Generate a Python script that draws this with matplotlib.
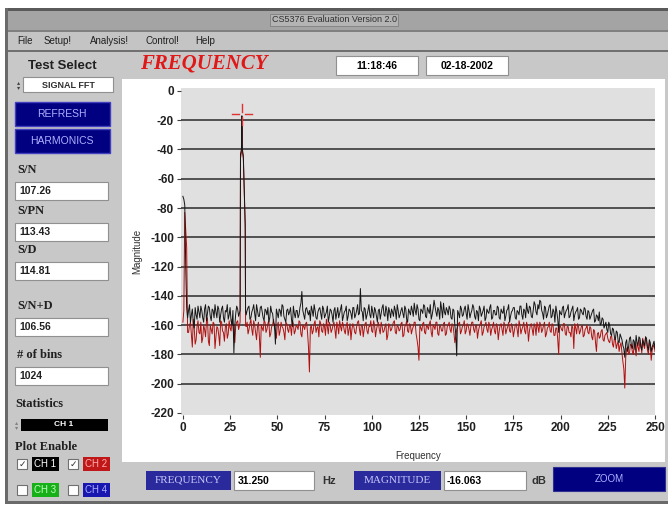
import numpy as np
import matplotlib
matplotlib.use("Agg")
import matplotlib.pyplot as plt
from matplotlib.patches import Rectangle

# ---- data (dB vs Hz) ----
freq_int = list(range(0, 30)) + list(range(34, 251))
freq_half = [f + 0.5 for f in range(0, 30)] + [f + 0.5 for f in range(33, 250)]

ch1_int = [
    -72, -78, -148, -150, -158, -149, -162, -153, -147, -155,
    -150, -158, -146, -152, -148, -157, -150, -146, -155, -149,
    -153, -147, -158, -151, -156, -148, -160, -179, -152, -149,
    # 34..
    -150, -147, -155, -149, -152, -146, -154, -148, -151, -157,
    -150, -148, -155, -151, -158, -173, -152, -149, -154, -147,
    -156, -150, -153, -148, -161, -152, -150, -155, -148, -137,
    -153, -149, -151, -150, -147, -154, -150, -156, -149, -152,
    -147, -155, -151, -158, -149, -153, -150, -156, -148, -152,
    -146, -154, -150, -157, -149, -152, -148, -155, -150, -153,
    -135, -151, -148, -156, -150, -153, -147, -155, -150, -158,
    -149, -152, -146, -154, -150, -148, -155, -151, -147, -156,
    -150, -153, -148, -155, -149, -158, -151, -147, -154, -150,
    -146, -156, -149, -152, -147, -155, -150, -146, -153, -143,
    -151, -148, -156, -149, -145, -153, -150, -147, -155, -149,
    -160, -181, -152, -147, -154, -149, -152, -146, -155, -150,
    -148, -156, -151, -147, -154, -150, -157, -149, -152, -146,
    -155, -150, -153, -148, -156, -151, -147, -154, -149, -158,
    -151, -148, -155, -150, -153, -147, -156, -150, -145, -152,
    -148, -155, -144, -151, -146, -143, -150, -156, -148, -153,
    -147, -155, -149, -158, -151, -165, -152, -148, -155, -150,
    -146, -154, -149, -157, -151, -148, -155, -150, -153, -149,
    -156, -151, -154, -150, -158, -153, -157, -160, -155, -162,
    -158, -165, -160, -167, -163, -170, -165, -172, -168, -174,
    -182, -170, -175, -168, -176, -171, -167, -174, -169, -177,
    -172, -168, -175, -170, -178, -173, -176,
]
ch1_half = [
    -74, -120, -155, -146, -153, -158, -148, -156, -151, -147,
    -155, -149, -157, -147, -154, -149, -155, -151, -147, -158,
    -149, -155, -150, -146, -153, -157, -150, -160, -147, -154,
    # 33.5..
    -153, -148, -156, -151, -146, -157, -150, -154, -147, -155,
    -149, -153, -158, -147, -152, -160, -149, -155, -150, -146,
    -154, -158, -149, -151, -156, -147, -155, -150, -153, -145,
    -150, -156, -148, -153, -157, -150, -146, -155, -151, -148,
    -156, -149, -153, -147, -154, -150, -158, -148, -152, -155,
    -149, -157, -151, -147, -154, -150, -156, -148, -153, -146,
    -152, -150, -157, -149, -153, -146, -155, -151, -148, -154,
    -150, -156, -148, -153, -147, -157, -151, -149, -154, -150,
    -146, -155, -150, -152, -147, -156, -149, -153, -150, -145,
    -153, -149, -157, -150, -146, -154, -148, -152, -156, -149,
    -147, -154, -150, -144, -155, -151, -148, -153, -149, -156,
    -150, -166, -150, -155, -149, -153, -147, -156, -150, -152,
    -146, -154, -150, -157, -149, -152, -147, -155, -151, -148,
    -156, -150, -153, -147, -155, -149, -152, -157, -150, -146,
    -154, -150, -148, -156, -151, -147, -153, -149, -155, -150,
    -147, -154, -150, -146, -153, -149, -144, -152, -147, -155,
    -150, -146, -154, -151, -147, -156, -150, -153, -147, -152,
    -149, -155, -151, -147, -153, -150, -156, -149, -152, -148,
    -154, -150, -156, -152, -149, -157, -154, -151, -159, -156,
    -160, -163, -158, -166, -162, -168, -164, -171, -166, -170,
    -176, -172, -178, -169, -174, -170, -177, -172, -168, -175,
    -170, -174, -169, -177, -172, -175, -171,
]

ch2_int = [
    -158, -83, -107, -165, -158, -175, -162, -170, -157, -166,
    -172, -160, -168, -155, -174, -163, -158, -176, -161, -167,
    -157, -164, -171, -159, -166, -162, -156, -168, -160, -157,
    # 34..
    -158, -163, -156, -167, -160, -170, -158, -182, -162, -157,
    -165, -159, -168, -161, -156, -164, -160, -167, -158, -162,
    -170, -159, -165, -161, -157, -166, -160, -163, -158, -168,
    -161, -159, -165, -192, -160, -164, -157, -162, -168, -159,
    -165, -161, -156, -166, -160, -163, -158, -169, -161, -157,
    -164, -160, -166, -158, -163, -170, -159, -165, -161, -157,
    -167, -160, -163, -158, -166, -161, -164, -157, -168, -160,
    -163, -158, -165, -161, -170, -159, -164, -160, -157, -166,
    -161, -163, -158, -167, -160, -164, -159, -166, -161, -158,
    -170, -184, -162, -159, -165, -160, -163, -157, -168, -161,
    -158, -166, -160, -164, -159, -167, -161, -158, -165, -160,
    -172, -163, -159, -166, -161, -157, -164, -160, -167, -158,
    -163, -160, -169, -161, -157, -165, -160, -163, -158, -167,
    -161, -164, -159, -170, -160, -163, -158, -166, -161, -164,
    -159, -168, -160, -163, -157, -166, -161, -164, -158, -171,
    -160, -163, -159, -167, -161, -158, -165, -160, -168, -162,
    -158, -165, -160, -167, -162, -180, -161, -164, -159, -167,
    -161, -165, -160, -176, -162, -159, -166, -161, -168, -163,
    -160, -166, -162, -170, -164, -178, -165, -168, -163, -171,
    -166, -169, -172, -167, -175, -170, -173, -178, -172, -185,
    -203, -176, -180, -173, -178, -172, -181, -175, -170, -179,
    -174, -168, -177, -172, -184, -175, -178,
]
ch2_half = [
    -150, -95, -165, -160, -167, -156, -173, -161, -165, -158,
    -169, -163, -157, -171, -160, -166, -159, -168, -162, -174,
    -158, -165, -161, -169, -157, -164, -160, -172, -158, -163,
    # 33.5..
    -161, -166, -159, -163, -157, -165, -161, -168, -160, -164,
    -158, -163, -157, -166, -160, -162, -169, -158, -164, -161,
    -165, -158, -163, -160, -167, -159, -164, -161, -157, -166,
    -160, -163, -158, -175, -162, -166, -159, -165, -161, -157,
    -164, -159, -167, -161, -158, -165, -160, -163, -158, -166,
    -161, -158, -164, -160, -167, -159, -163, -161, -166, -158,
    -163, -160, -168, -159, -164, -161, -157, -165, -160, -163,
    -158, -166, -161, -164, -159, -167, -160, -163, -158, -165,
    -160, -164, -159, -168, -161, -157, -165, -160, -163, -158,
    -166, -175, -160, -164, -158, -166, -161, -159, -165, -160,
    -163, -158, -167, -161, -164, -158, -166, -160, -163, -159,
    -165, -168, -161, -158, -164, -160, -166, -159, -163, -161,
    -158, -165, -160, -164, -159, -167, -161, -158, -165, -160,
    -163, -158, -166, -161, -164, -159, -167, -160, -163, -158,
    -165, -161, -164, -159, -168, -160, -163, -158, -166, -161,
    -164, -159, -167, -161, -158, -165, -160, -163, -158, -166,
    -161, -164, -159, -167, -162, -170, -160, -163, -159, -166,
    -161, -165, -168, -162, -159, -166, -161, -164, -160, -167,
    -162, -165, -161, -168, -163, -172, -166, -169, -164, -170,
    -167, -165, -171, -168, -173, -169, -176, -171, -174, -179,
    -190, -182, -175, -179, -174, -180, -176, -172, -178, -173,
    -169, -176, -171, -180, -174, -177, -173,
]

# fundamental tone around 31.25 Hz
peak_freq = [30.3, 30.5, 31.0, 31.25, 31.5, 32.0, 33.0, 33.2]
ch1_peak = [-150, -43, -40, -17, -40, -44, -91, -150]
ch2_peak = [-158, -46, -42, -22, -42, -46, -93, -160]

cursor_freq = 31.250
cursor_mag = -16.063

y_ticks = [0, -20, -40, -60, -80, -100, -120, -140, -160, -180, -200, -220]
x_ticks = [0, 25, 50, 75, 100, 125, 150, 175, 200, 225, 250]

readouts = [("S/N", "107.26"), ("S/PN", "113.43"), ("S/D", "114.81"),
            ("S/N+D", "106.56"), ("# of bins", "1024")]
menu_items = ["File", "Setup!", "Analysis!", "Control!", "Help"]


def merged(*pairs):
    f = np.concatenate([np.asarray(p[0], dtype=float) for p in pairs])
    v = np.concatenate([np.asarray(p[1], dtype=float) for p in pairs])
    order = np.argsort(f, kind="stable")
    return f[order], v[order]


ch1_f, ch1_v = merged((freq_int, ch1_int), (freq_half, ch1_half), (peak_freq, ch1_peak))
ch2_f, ch2_v = merged((freq_int, ch2_int), (freq_half, ch2_half), (peak_freq, ch2_peak))

W, H = 668, 508
sans = ["Liberation Sans", "DejaVu Sans"]
serif = ["Liberation Serif", "DejaVu Serif"]

fig = plt.figure(figsize=(W / 100, H / 100), dpi=100)
fig.patch.set_facecolor("white")

# GUI frame drawn in pixel coordinates
gui = fig.add_axes([0, 0, 1, 1], zorder=0)
gui.set_xlim(0, W)
gui.set_ylim(H, 0)
gui.axis("off")


def box(x0, y0, x1, y1, fc, ec="none", lw=0.8):
    gui.add_patch(Rectangle((x0, y0), x1 - x0, y1 - y0, facecolor=fc,
                            edgecolor=ec, lw=lw))


def txt(x, y, s, size=8, ha="left", **kw):
    gui.text(x, y, s, fontsize=size, ha=ha, va="center", **kw)


# window
box(5, 8, W, 504, "#c8c8c8")
box(5, 8, W, 11, "#5a5a5a")
box(5, 11, W, 30, "#a4a4a4")
box(5, 30, W, 32, "#808080")
box(5, 32, W, 50, "#c4c4c4")
box(5, 50, W, 52, "#707070")
box(5, 8, 8, 504, "#6a6a6a")
box(5, 501, W, 504, "#6a6a6a")
txt(334, 20, "CS5376 Evaluation Version 2.0", size=6.5, ha="center",
    color="#303030", family=sans,
    bbox=dict(boxstyle="square,pad=0.15", fc="#b4b4b4", ec="#808080", lw=0.6))
for x, item in zip([17, 44, 90, 145, 195], menu_items):
    txt(x, 41, item, size=7, color="#202020", family=sans)

# header
txt(28, 66, "Test Select", size=9.5, weight="bold", family=sans, color="#202020")
txt(140, 64, "FREQUENCY", size=15, weight="bold", style="italic",
    family=serif, color="#e01818")
box(336, 56, 418, 75, "white", "#909090")
txt(377, 66, "11:18:46", size=7.5, ha="center", weight="bold", family=sans)
box(426, 56, 508, 75, "white", "#909090")
txt(467, 66, "02-18-2002", size=7.5, ha="center", weight="bold", family=sans)

# left control panel
box(23, 77, 113, 92, "white", "#909090")
txt(68, 85, "SIGNAL FFT", size=6.5, ha="center", weight="bold", color="#303030",
    family=sans)
txt(19, 85, "\u25b4\n\u25be", size=4.5, ha="center", color="#404040", linespacing=0.8)
for y0, label in [(102, "REFRESH"), (129, "HARMONICS")]:
    box(15, y0, 110, y0 + 24, "#000080", "#4040c0", lw=1.0)
    txt(62, y0 + 12, label, size=7.5, ha="center", color="#b0b0ff", family=sans)

label_y = [170, 211, 250, 306, 355]
for (name, value), ly in zip(readouts, label_y):
    txt(17, ly, name, size=9, weight="bold", family=serif, color="#202020")
    box(15, ly + 12, 108, ly + 30, "white", "#909090")
    txt(19, ly + 21, value, size=7.5, weight="bold", family=sans, color="#202020")

txt(15, 404, "Statistics", size=9, weight="bold", family=serif, color="#202020")
box(21, 419, 108, 431, "black")
txt(64, 425, "CH 1", size=6, ha="center", weight="bold", color="white", family=sans)
txt(17, 425, "\u25b4\n\u25be", size=4.5, ha="center", color="#808080", linespacing=0.8)
txt(15, 447, "Plot Enable", size=9, weight="bold", family=serif, color="#202020")

channels = [("CH 1", "#000000", "white", True, 17, 464),
            ("CH 2", "#c01818", "#ffb0b0", True, 68, 464),
            ("CH 3", "#18b018", "#c0ffc0", False, 17, 490),
            ("CH 4", "#1818b0", "#b0b0ff", False, 68, 490)]
for name, bg, fg, checked, x, y in channels:
    box(x, y - 5, x + 10, y + 5, "white", "#707070")
    if checked:
        txt(x + 5, y, "\u2713", size=6.5, ha="center", color="#303030")
    box(x + 15, y - 7, x + 42, y + 7, bg)
    txt(x + 28.5, y, name, size=7, ha="center", color=fg, family=sans)

# white plot panel
box(122, 79, 665, 462, "white")

# bottom readout strip
for x0, x1, label in [(146, 231, "FREQUENCY"), (354, 441, "MAGNITUDE")]:
    box(x0, 471, x1, 490, "#2a2a9c")
    txt((x0 + x1) / 2, 480.5, label, size=8, ha="center", color="#c8c8ff",
        family=serif)
box(234, 471, 314, 490, "white", "#909090")
txt(238, 481, "%.3f" % cursor_freq, size=7.5, weight="bold", family=sans)
txt(322, 481, "Hz", size=8, weight="bold", family=sans, color="#303030")
box(444, 471, 526, 490, "white", "#909090")
txt(447, 481, "%.3f" % cursor_mag, size=7.5, weight="bold", family=sans)
txt(531, 481, "dB", size=8, weight="bold", family=sans, color="#303030")
box(553, 467, 665, 491, "#000080", "#303090")
txt(609, 479, "ZOOM", size=7, ha="center", color="#b0b0ff", family=sans)

# ---- the FFT plot ----
ax = fig.add_axes([181 / W, 1 - 415 / H, (655 - 181) / W, (415 - 88) / H], zorder=2)
ax.set_facecolor("#e0e0e0")
ax.set_xlim(-1, 250)
ax.set_ylim(-221.4, 2)
for s in ax.spines.values():
    s.set_visible(False)

for g in y_ticks[1:-1]:
    ax.axhline(g, color="#2a2a2a", lw=1.1, zorder=1)

ax.plot(ch2_f, ch2_v, color="#b01010", lw=0.7, zorder=2)
ax.plot(ch1_f, ch1_v, color="#151515", lw=0.7, zorder=3)

# cursor cross-hair
dx, gx, dy, gy = 5.5, 1.5, 7, 2
ax.plot([cursor_freq - dx, cursor_freq - gx], [cursor_mag] * 2, color="#e03030", lw=1, zorder=4)
ax.plot([cursor_freq + gx, cursor_freq + dx], [cursor_mag] * 2, color="#e03030", lw=1, zorder=4)
ax.plot([cursor_freq] * 2, [cursor_mag + dy, cursor_mag + gy], color="#e03030", lw=1, zorder=4)
ax.plot([cursor_freq] * 2, [cursor_mag - gy, cursor_mag - dy], color="#e03030", lw=1, zorder=4)

ax.set_yticks(y_ticks)
ax.set_yticklabels([str(t) for t in y_ticks])
ax.set_xticks(x_ticks)
ax.set_xticklabels([str(t) for t in x_ticks])
ax.tick_params(axis="both", direction="out", length=3, width=0.8, color="#404040",
               labelsize=8.5, pad=2)
for lab in ax.get_xticklabels() + ax.get_yticklabels():
    lab.set_fontweight("bold")
    lab.set_family(sans)
    lab.set_color("#202020")

ax.set_xlabel("Frequency", fontsize=7, labelpad=12, color="#303030", family=sans)
ax.set_ylabel("Magnitude", fontsize=7, labelpad=6, color="#303030", family=sans)

fig.savefig("out.png", dpi=100)
